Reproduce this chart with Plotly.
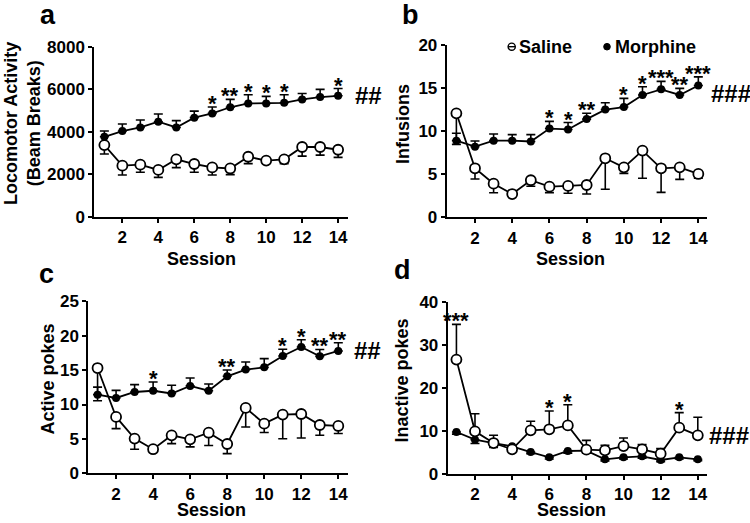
import plotly.graph_objects as go

W, H = 750, 523
FONT = "Liberation Sans, Arial, sans-serif"

sessions = list(range(1, 15))
x_tick_vals = [2, 4, 6, 8, 10, 12, 14]

# Panel a: locomotor activity
loco_saline = [3370, 2400, 2450, 2200, 2700, 2480, 2320, 2270, 2820, 2640, 2700, 3280, 3280, 3150]
loco_saline_sem = [420, 440, 360, 350, 390, 390, 360, 290, 320, 100, 200, 430, 380, 360]
loco_morph = [3760, 4030, 4200, 4470, 4200, 4660, 4860, 5150, 5330, 5330, 5360, 5520, 5630, 5690]
loco_morph_sem = [270, 330, 350, 360, 320, 310, 300, 370, 410, 330, 380, 280, 360, 340]
loco_stars = {7: "*", 8: "**", 9: "*", 10: "*", 11: "*", 14: "*"}

# Panel b: infusions
inf_saline = [12.07, 5.69, 3.9, 2.7, 4.3, 3.56, 3.64, 3.75, 6.85, 5.8, 7.74, 5.69, 5.8, 5.03]
inf_saline_sem = [3.6, 1.24, 1.05, 0.2, 0.7, 0.7, 0.85, 1.05, 3.6, 0.7, 3.2, 2.8, 1.4, 0.5]
inf_morph = [8.9, 8.2, 8.9, 8.9, 8.8, 10.3, 10.2, 11.4, 12.5, 12.8, 14.2, 14.85, 14.2, 15.3]
inf_morph_sem = [0.85, 0.66, 0.77, 0.7, 0.8, 0.84, 0.8, 0.67, 0.8, 1.0, 0.96, 0.93, 0.77, 1.0]
inf_stars = {6: "*", 7: "*", 8: "**", 10: "*", 11: "*", 12: "***", 13: "**", 14: "***"}

# Panel c: active pokes
act_saline = [15.3, 8.19, 5.04, 3.5, 5.52, 4.94, 5.9, 4.26, 9.5, 7.22, 8.53, 8.62, 7.02, 6.88]
act_saline_sem = [4.75, 1.7, 1.55, 0.3, 1.2, 1.1, 1.85, 1.4, 2.77, 1.3, 3.5, 3.5, 1.5, 1.1]
act_morph = [11.43, 10.95, 11.82, 12.0, 11.6, 12.7, 12.0, 14.1, 15.07, 15.4, 17.05, 18.36, 17.0, 17.78]
act_morph_sem = [1.1, 1.1, 1.07, 1.27, 1.2, 1.16, 0.98, 0.92, 1.1, 1.27, 0.97, 1.05, 1.0, 1.2]
act_stars = {4: "*", 8: "**", 11: "*", 12: "*", 13: "**", 14: "**"}

# Panel d: inactive pokes
inact_saline = [26.6, 9.92, 7.2, 5.74, 10.16, 10.4, 11.3, 5.66, 5.5, 6.5, 5.74, 4.73, 10.78, 9.0]
inact_saline_sem = [8.2, 4.1, 1.8, 0.5, 2.1, 4.25, 4.8, 2.17, 1.17, 1.87, 1.1, 1.17, 3.5, 4.2]
inact_morph = [9.77, 7.98, 7.2, 6.43, 5.1, 3.88, 5.35, 5.43, 3.41, 3.88, 4.1, 3.26, 3.88, 3.41]
inact_morph_sem = [0.5, 0.9, 1.0, 0.5, 0.4, 0.4, 0.5, 0.6, 0.4, 0.4, 0.4, 0.4, 0.4, 0.3]
inact_stars = {1: "***", 6: "*", 7: "*", 13: "*"}

legend_labels = ["Saline", "Morphine"]

panels = [
    dict(key="", letter="a", sal=loco_saline, sal_e=loco_saline_sem, mor=loco_morph, mor_e=loco_morph_sem,
         stars=loco_stars, star_on="mor", hash="##", hash_on="mor", hash_x=353, hash_shift=0,
         ytitle="Locomotor Activity<br>(Beam Breaks)", ytpos=(22, 124), xtpos=(202, 259),
         yrange=[0, 8000], dtick=2000,
         px=(94.3, 348.0), py=(46.7, 216.7), xr=[0.44, 14.55], lpos=(48, 15)),
    dict(key="2", letter="b", sal=inf_saline, sal_e=inf_saline_sem, mor=inf_morph, mor_e=inf_morph_sem,
         stars=inf_stars, star_on="mor", hash="###", hash_on="mor", hash_x=709, hash_shift=-8,
         ytitle="Infusions", ytpos=(403, 124), xtpos=(570, 259),
         yrange=[0, 20], dtick=5,
         px=(446.7, 706.7), py=(45.0, 217.3), xr=[0.48, 14.45], lpos=(410, 15)),
    dict(key="3", letter="c", sal=act_saline, sal_e=act_saline_sem, mor=act_morph, mor_e=act_morph_sem,
         stars=act_stars, star_on="mor", hash="##", hash_on="mor", hash_x=352, hash_shift=0,
         ytitle="Active pokes", ytpos=(47, 379.5), xtpos=(211, 510),
         yrange=[0, 25], dtick=5,
         px=(88.3, 348.3), py=(301.3, 473.3), xr=[0.5, 14.54], lpos=(46, 274)),
    dict(key="4", letter="d", sal=inact_saline, sal_e=inact_saline_sem, mor=inact_morph, mor_e=inact_morph_sem,
         stars=inact_stars, star_on="sal", hash="###", hash_on="sal", hash_x=707, hash_shift=0,
         ytitle="Inactive pokes", ytpos=(401, 380.5), xtpos=(571, 510),
         yrange=[0, 40], dtick=10,
         px=(447.7, 706.7), py=(302.0, 474.0), xr=[0.53, 14.48], lpos=(402, 270)),
]

def bold(size):
    return dict(family=FONT, size=size, color="black", weight="bold")

fig = go.Figure()
annotations = []
shapes = []
layout = {}

for p in panels:
    k = p["key"]
    xa, ya = "x" + k, "y" + k
    upper_is_mor = p["star_on"] == "mor"
    zeros = [0] * len(sessions)
    fig.add_trace(go.Scatter(
        x=sessions, y=p["mor"], xaxis=xa, yaxis=ya, mode="lines+markers", name=legend_labels[1],
        line=dict(color="black", width=1.8),
        marker=dict(symbol="circle", size=8, color="black"),
        error_y=dict(type="data", symmetric=False,
                     array=p["mor_e"] if upper_is_mor else zeros,
                     arrayminus=zeros if upper_is_mor else p["mor_e"],
                     color="black", thickness=1.6, width=4.5),
        showlegend=False, hoverinfo="skip"))
    fig.add_trace(go.Scatter(
        x=sessions, y=p["sal"], xaxis=xa, yaxis=ya, mode="lines+markers", name=legend_labels[0],
        line=dict(color="black", width=1.8),
        marker=dict(symbol="circle", size=10, color="white", line=dict(color="black", width=1.8)),
        error_y=dict(type="data", symmetric=False,
                     array=zeros if upper_is_mor else p["sal_e"],
                     arrayminus=p["sal_e"] if upper_is_mor else zeros,
                     color="black", thickness=1.6, width=4.5),
        showlegend=False, hoverinfo="skip"))

    x0, x1 = p["px"]
    ytop, ybot = p["py"]
    layout["xaxis" + k] = dict(
        domain=[x0 / W, x1 / W], range=p["xr"], anchor=ya, automargin=False,
        tickvals=x_tick_vals, ticks="outside", ticklen=4, tickwidth=1.8, tickcolor="black",
        showline=True, linecolor="black", linewidth=2, showgrid=False, zeroline=False,
        tickfont=bold(17))
    layout["yaxis" + k] = dict(
        domain=[1 - ybot / H, 1 - ytop / H], range=p["yrange"], anchor=xa, dtick=p["dtick"],
        automargin=False, ticks="outside", ticklen=4, tickwidth=1.8, tickcolor="black",
        showline=True, linecolor="black", linewidth=2, showgrid=False, zeroline=False,
        tickfont=bold(17))

    # axis titles
    annotations.append(dict(
        x=p["xtpos"][0] / W, y=1 - p["xtpos"][1] / H, xref="paper", yref="paper", text="Session",
        showarrow=False, xanchor="center", yanchor="middle", height=16, font=bold(18)))
    annotations.append(dict(
        x=p["ytpos"][0] / W, y=1 - p["ytpos"][1] / H, xref="paper", yref="paper", text=p["ytitle"],
        showarrow=False, xanchor="center", yanchor="middle", textangle=-90, font=bold(18)))

    # significance stars
    src = p["mor"] if p["star_on"] == "mor" else p["sal"]
    src_e = p["mor_e"] if p["star_on"] == "mor" else p["sal_e"]
    for s, txt in p["stars"].items():
        i = sessions.index(s)
        annotations.append(dict(
            x=s, y=src[i] + src_e[i], xref=xa, yref=ya, text=txt, showarrow=False,
            yanchor="bottom", yshift=-11, font=bold(22)))
    # hash marks
    hsrc = p["mor"] if p["hash_on"] == "mor" else p["sal"]
    annotations.append(dict(
        x=p["hash_x"] / W, y=hsrc[-1], xref="paper", yref=ya, text=p["hash"], showarrow=False,
        xanchor="left", yanchor="middle", yshift=p["hash_shift"], font=bold(24)))
    # panel letter
    annotations.append(dict(
        x=p["lpos"][0] / W, y=1 - p["lpos"][1] / H, xref="paper", yref="paper",
        text=p["letter"], showarrow=False, xanchor="center", yanchor="middle", font=bold(27)))

# legend (panel b) drawn as paper-positioned symbols and labels
ly = 1 - 46.7 / H
r = 3.6
sx, mx = 511.7, 607.0
shapes.append(dict(type="circle", xref="paper", yref="paper",
                   x0=(sx - r) / W, x1=(sx + r) / W, y0=ly - r / H, y1=ly + r / H,
                   line=dict(color="black", width=1.4), fillcolor="white"))
shapes.append(dict(type="line", xref="paper", yref="paper",
                   x0=(sx - r) / W, x1=(sx + r) / W, y0=ly, y1=ly,
                   line=dict(color="black", width=1.4)))
shapes.append(dict(type="circle", xref="paper", yref="paper",
                   x0=(mx - 3.3) / W, x1=(mx + 3.3) / W, y0=ly - 3.3 / H, y1=ly + 3.3 / H,
                   line=dict(color="black", width=1), fillcolor="black"))
annotations.append(dict(x=517 / W, y=ly, xref="paper", yref="paper", text=legend_labels[0],
                        showarrow=False, xanchor="left", yanchor="middle", font=bold(18)))
annotations.append(dict(x=613 / W, y=ly, xref="paper", yref="paper", text=legend_labels[1],
                        showarrow=False, xanchor="left", yanchor="middle", font=bold(18)))

fig.update_layout(
    width=W, height=H, margin=dict(l=0, r=0, t=0, b=0),
    paper_bgcolor="white", plot_bgcolor="white",
    font=dict(family=FONT, color="black"),
    annotations=annotations, shapes=shapes,
    showlegend=False,
    **layout)

fig.write_html("out.html", config={"displayModeBar": False},
               post_script="document.body.style.margin='0';")
